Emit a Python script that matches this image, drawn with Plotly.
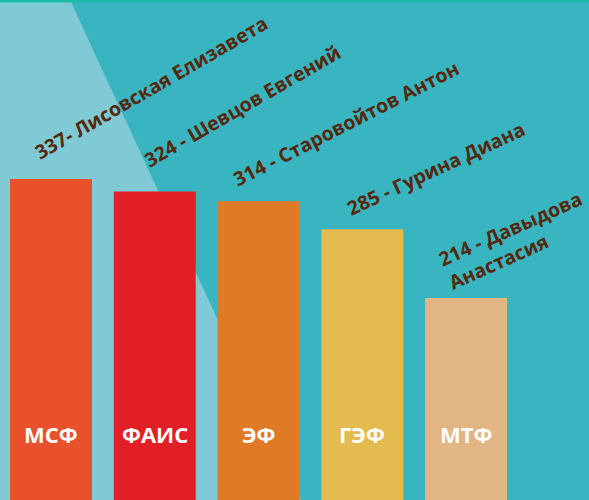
import plotly.graph_objects as go

# ---- data ----
faculties = ["МСФ", "ФАИС", "ЭФ", "ГЭФ", "МТФ"]
scores = [337, 324, 314, 285, 214]
names = ["Лисовская Елизавета", "Шевцов Евгений", "Старовойтов Антон",
         "Гурина Диана", "Давыдова<br>Анастасия"]
separators = ["- ", " - ", " - ", " - ", " - "]

# ---- style ----
bar_colors = ["#e8512b", "#e21f26", "#e07a25", "#e4bb4f", "#e2b585"]
label_dx = [100, 88, 87, 73, 49]      # pixel offsets of rotated labels from bar top
label_dy = [91, 86, 78, 61, 58]
label_angle = [-30, -30, -27, -25, -24]
teal = "#38b5c1"
light = "#7fcad5"
brown = "#55280c"

W, H = 589, 500
x_idx = list(range(len(faculties)))

fig = go.Figure()
fig.add_trace(go.Bar(
    x=x_idx, y=scores,
    marker=dict(color=bar_colors, line=dict(width=0)),
    width=0.79, hoverinfo="skip",
))

annotations = []
for i, (s, n, sep) in enumerate(zip(scores, names, separators)):
    annotations.append(dict(
        x=i, y=s, xref="x", yref="y",
        text=f"{s}{sep}{n}", showarrow=False,
        textangle=label_angle[i], align="left",
        xanchor="center", yanchor="middle",
        xshift=label_dx[i], yshift=label_dy[i],
        font=dict(family="Open Sans", size=19.5, color=brown, weight=700),
    ))
    annotations.append(dict(
        x=i, y=0.132, xref="x", yref="paper",
        text=faculties[i], showarrow=False,
        xanchor="center", yanchor="middle",
        font=dict(family="Open Sans", size=22, color="white", weight=700),
    ))

shapes = [
    dict(type="path", xref="paper", yref="paper", layer="below",
         path=f"M 0 0 L 0 1 L {70/W} 1 L {301/W} 0 Z",
         fillcolor=light, line=dict(width=0)),
    dict(type="rect", xref="paper", yref="paper", layer="above",
         x0=0, x1=1, y0=1 - 2.5/H, y1=1,
         fillcolor="#1bbca6", line=dict(width=0)),
]

fig.update_layout(
    width=W, height=H,
    margin=dict(l=0, r=0, t=0, b=0),
    paper_bgcolor=teal, plot_bgcolor=teal,
    showlegend=False,
    xaxis=dict(range=[-0.4916, 5.185], visible=False, fixedrange=True),
    yaxis=dict(range=[5.17, 522], visible=False, fixedrange=True),
    annotations=annotations, shapes=shapes,
    bargap=0.21,
)

fig.write_html(
    "out.html",
    config={"displayModeBar": False},
    post_script="document.body.style.margin='0';document.body.style.padding='0';document.body.style.overflow='hidden';",
)
